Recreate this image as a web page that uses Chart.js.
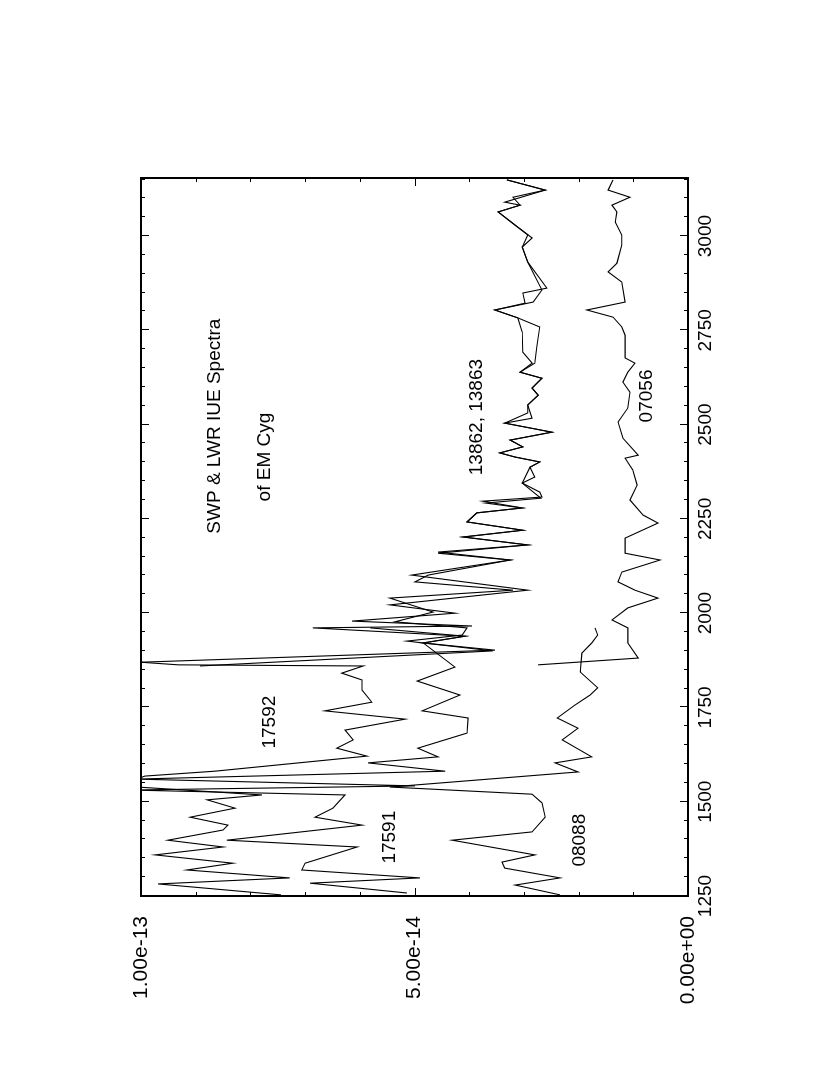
<!DOCTYPE html>
<html>
<head>
<meta charset="utf-8">
<title>SWP & LWR IUE Spectra of EM Cyg</title>
<script src="https://cdn.jsdelivr.net/npm/chart.js@4/dist/chart.umd.min.js"></script>
<style>
    html, body { margin: 0; padding: 0; background: #fff; overflow: hidden; }
    /* El gráfico original está girado 90° (antihorario) sobre la página */
    #wrap {
        position: absolute; left: 0; top: 0;
        width: 1075px; height: 830px;
        transform-origin: 0 0;
        transform: translate(0, 1075px) rotate(-90deg);
    }
</style>
</head>
<body>
<div id="wrap"><canvas id="chartIUE" width="1075" height="830"></canvas></div>
<script>
// Flujo en unidades de 1e-14 (erg/cm2/s/Å), longitud de onda en Å

const WL_17592 = [1253, 1282, 1298, 1319, 1337, 1359, 1380, 1398, 1425, 1438, 1459, 1483, 1505, 1518, 1542, 1568, 1581, 1621, 1642, 1664, 1690, 1719, 1741, 1764, 1796, 1823, 1841, 1860, 1863, 1876];
const FLUX_17592 = [7.44, 9.69, 7.28, 9.16, 8.32, 9.74, 8.50, 9.51, 8.50, 8.41, 9.10, 8.28, 8.79, 7.79, 10.4, 9.93, 8.65, 5.87, 6.42, 6.12, 6.27, 5.17, 6.64, 5.78, 5.96, 5.96, 6.33, 5.94, 9.32, 10.6];

const WL_17591 = [1258, 1284, 1298, 1319, 1337, 1380, 1398, 1438, 1459, 1483, 1518, 1531, 1542, 1560, 1581, 1603, 1619, 1642, 1682, 1722, 1741, 1783, 1820, 1857, 1921, 1939, 1961];
const FLUX_17591 = [5.14, 6.91, 4.90, 7.06, 7.00, 6.05, 8.43, 5.96, 6.82, 6.49, 6.27, 10.2, 4.99, 10.1, 4.44, 5.85, 4.57, 4.94, 4.04, 4.02, 4.86, 4.17, 4.95, 4.26, 4.84, 4.08, 5.81];

const WL_08088 = [1253, 1279, 1298, 1324, 1340, 1359, 1398, 1420, 1459, 1497, 1520, 1539, 1579, 1603, 1619, 1664, 1695, 1722, 1756, 1783, 1802, 1844, 1894, 1921, 1942, 1961];
const FLUX_08088 = [2.34, 3.16, 2.34, 3.35, 3.40, 2.80, 4.31, 2.85, 2.61, 2.67, 2.85, 5.45, 2.01, 2.43, 1.76, 2.30, 2.01, 2.39, 2.07, 1.79, 1.65, 1.97, 1.94, 1.76, 1.65, 1.70];

const WL_13862 = [1868, 1902, 1921, 1939, 1961, 1966, 1979, 2000, 2022, 2061, 2101, 2141, 2162, 2181, 2202, 2220, 2242, 2266, 2279, 2297, 2308, 2321, 2345, 2387, 2401, 2414, 2425, 2441, 2459, 2480, 2504, 2531, 2552, 2578, 2597, 2623, 2639, 2663, 2710, 2759, 2783, 2804, 2822, 2849, 2862, 2931, 2971, 3003, 3029, 3064, 3082, 3090, 3122, 3149];
const FLUX_13862 = [10.4, 3.53, 4.84, 4.08, 6.86, 3.95, 6.14, 4.26, 5.45, 2.93, 5.05, 3.25, 4.57, 2.93, 4.11, 3.02, 4.04, 3.86, 3.03, 3.75, 2.67, 2.71, 3.03, 2.89, 2.71, 3.16, 3.44, 3.02, 3.25, 2.49, 3.35, 2.93, 2.93, 2.74, 2.85, 2.67, 3.07, 2.80, 2.76, 2.71, 3.11, 3.53, 2.98, 3.02, 2.58, 2.93, 3.03, 2.93, 3.16, 3.47, 3.07, 3.35, 2.61, 3.31];

const WL_13863 = [1860, 1900, 1926, 1942, 1961, 1977, 2003, 2040, 2061, 2083, 2101, 2141, 2159, 2181, 2202, 2220, 2242, 2266, 2279, 2292, 2305, 2345, 2361, 2387, 2401, 2414, 2425, 2441, 2459, 2480, 2504, 2517, 2552, 2578, 2597, 2623, 2639, 2663, 2692, 2745, 2783, 2804, 2825, 2857, 2931, 2971, 2995, 3029, 3064, 3082, 3103, 3122, 3149];
const FLUX_13863 = [8.92, 3.57, 5.14, 4.13, 4.04, 5.36, 4.66, 5.45, 3.20, 4.99, 4.75, 3.25, 4.57, 2.93, 4.11, 3.02, 4.04, 3.86, 3.03, 3.70, 2.69, 3.03, 2.80, 2.89, 2.71, 3.16, 3.44, 3.02, 3.25, 2.49, 3.35, 2.85, 2.93, 2.74, 2.85, 2.67, 3.07, 2.85, 3.02, 3.03, 3.11, 3.53, 2.83, 2.67, 2.93, 3.03, 2.85, 3.16, 3.47, 3.07, 3.20, 2.61, 3.31];

const WL_07056 = [1863, 1881, 1921, 1961, 1982, 2014, 2040, 2061, 2083, 2109, 2141, 2159, 2199, 2239, 2260, 2300, 2340, 2380, 2411, 2419, 2464, 2507, 2544, 2586, 2613, 2639, 2663, 2677, 2737, 2759, 2785, 2804, 2825, 2878, 2905, 2928, 2976, 3003, 3037, 3064, 3082, 3103, 3122, 3149];
const FLUX_07056 = [2.74, 0.91, 1.10, 1.10, 1.39, 1.10, 0.55, 0.97, 1.28, 1.21, 0.51, 1.15, 1.15, 0.55, 0.82, 1.06, 0.93, 1.01, 1.15, 0.91, 1.19, 1.28, 1.10, 1.06, 1.19, 1.10, 0.97, 1.15, 1.15, 1.21, 1.37, 1.85, 1.15, 1.21, 1.46, 1.30, 1.21, 1.21, 1.33, 1.30, 1.39, 1.06, 1.46, 1.37];

// Ejes
const WAVE_TICKS = [1250, 1500, 1750, 2000, 2250, 2500, 2750, 3000];
const FLUX_TICKS = [0, 5, 10];
const FLUX_TICK_LABELS = ["0.00e+00", "5.00e-14", "1.00e-13"];

// Rótulos dentro del gráfico (anclados en coordenadas de datos)
const NOTE_TEXT = ["SWP & LWR IUE Spectra", "of EM Cyg", "13862, 13863", "07056", "17592", "17591", "08088"];
const NOTE_WL = [2496, 2414, 2520, 2576, 1711, 1406, 1398];
const NOTE_FLUX = [8.65, 7.73, 3.86, 0.75, 7.64, 5.45, 1.97];

const FONT = "'Liberation Sans', Arial, sans-serif";

function toPoints(wl, flux) {
    return wl.map((w, i) => ({ x: w, y: flux[i] }));
}

function lineDataset(label, wl, flux) {
    return {
        label,
        data: toPoints(wl, flux),
        borderColor: "#000",
        borderWidth: 1.1,
        pointRadius: 0,
        tension: 0,
        fill: false
    };
}

/**
 * Dibuja el marco y las marcas hacia adentro en los cuatro lados,
 * más los rótulos de texto dentro del área del gráfico.
 */
const framePlugin = {
    id: "frame",
    afterDatasetsDraw(chart) {
        const { ctx, chartArea: a, scales: { x, y } } = chart;
        ctx.save();
        ctx.strokeStyle = "#000";
        ctx.lineWidth = 1;
        ctx.beginPath();

        // Longitud de onda: menores cada 50 Å, mayores cada 250 Å
        for (let w = 1250; w <= x.max; w += 50) {
            const px = Math.round(x.getPixelForValue(w)) + 0.5;
            const len = (w % 250 === 0) ? 8 : 4;
            ctx.moveTo(px, a.bottom); ctx.lineTo(px, a.bottom - len);
            ctx.moveTo(px, a.top); ctx.lineTo(px, a.top + len);
        }
        // Flujo: menores cada 1e-14, mayores cada 5e-14
        for (let f = 0; f <= 10; f += 1) {
            const py = Math.round(y.getPixelForValue(f)) + 0.5;
            const len = (f % 5 === 0) ? 8 : 4;
            ctx.moveTo(a.left, py); ctx.lineTo(a.left + len, py);
            ctx.moveTo(a.right, py); ctx.lineTo(a.right - len, py);
        }
        ctx.stroke();

        ctx.lineWidth = 2;
        ctx.strokeRect(a.left, a.top, a.right - a.left, a.bottom - a.top);

        ctx.fillStyle = "#000";
        ctx.font = "19px " + FONT;
        ctx.textAlign = "center";
        ctx.textBaseline = "middle";
        NOTE_TEXT.forEach((t, i) => {
            ctx.fillText(t, x.getPixelForValue(NOTE_WL[i]), y.getPixelForValue(NOTE_FLUX[i]));
        });
        ctx.restore();
    }
};

function initChart() {
    const canvas = document.getElementById("chartIUE");

    new Chart(canvas, {
        type: "line",
        data: {
            datasets: [
                lineDataset("17592", WL_17592, FLUX_17592),
                lineDataset("17591", WL_17591, FLUX_17591),
                lineDataset("08088", WL_08088, FLUX_08088),
                lineDataset("13862", WL_13862, FLUX_13862),
                lineDataset("13863", WL_13863, FLUX_13863),
                lineDataset("07056", WL_07056, FLUX_07056)
            ]
        },
        options: {
            responsive: false,
            animation: false,
            layout: { padding: { top: 141, right: 178, left: 0, bottom: 0 } },
            plugins: { legend: { display: false }, tooltip: { enabled: false } },
            scales: {
                x: {
                    type: "linear",
                    min: 1250,
                    max: 3154,
                    afterBuildTicks: s => { s.ticks = WAVE_TICKS.map(v => ({ value: v })); },
                    afterFit: s => { s.height = 142; },
                    grid: { display: false, drawTicks: false },
                    border: { display: false },
                    ticks: {
                        color: "#000",
                        font: { family: FONT, size: 19 },
                        padding: 6,
                        maxRotation: 0,
                        autoSkip: false,
                        callback: v => String(v)
                    }
                },
                y: {
                    type: "linear",
                    min: 0,
                    max: 10,
                    afterBuildTicks: s => { s.ticks = FLUX_TICKS.map(v => ({ value: v })); },
                    afterFit: s => { s.width = 179; },
                    grid: { display: false, drawTicks: false },
                    border: { display: false },
                    ticks: {
                        color: "#000",
                        font: { family: FONT, size: 21 },
                        padding: 20,
                        autoSkip: false,
                        callback: (v, i) => FLUX_TICK_LABELS[i]
                    }
                }
            }
        },
        plugins: [framePlugin]
    });
}

document.addEventListener("DOMContentLoaded", initChart);
</script>
</body>
</html>
